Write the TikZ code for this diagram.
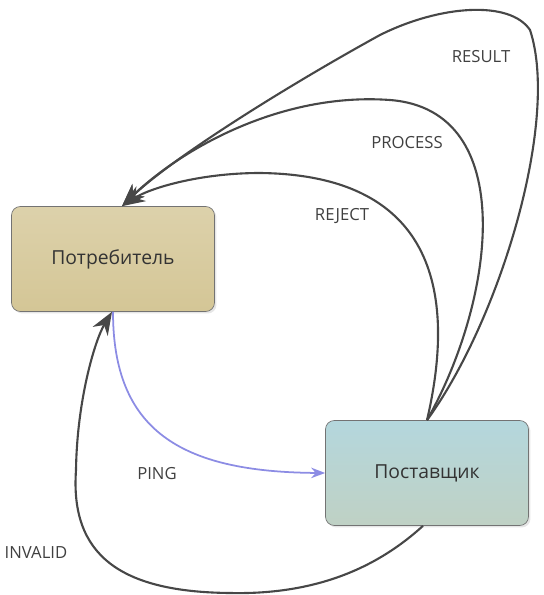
\documentclass[tikz,border=0pt]{standalone}
\usepackage{fontspec}
\setmainfont{Open Sans}
\usetikzlibrary{arrows.meta,shapes,positioning,shadows}
\definecolor{consfill}{RGB}{212,198,150}
\definecolor{provfill}{RGB}{180,215,221}
\definecolor{pingblue}{RGB}{140,140,228}

\begin{document}
\begin{tikzpicture}[x=0.02cm,y=-0.02cm]
\tikzset{state/.style ={draw=black!55, rounded corners=5pt, minimum width=4.06cm, minimum height=2.1cm,
    font=\fontsize{11}{13}\selectfont, text=black!80, drop shadow={opacity=0.2, shadow xshift=0.04cm, shadow yshift=-0.04cm}}}
\tikzset{msg/.style ={draw=black!72, line width=1.2pt, -{Stealth[length=13pt,width=10pt]}}}
\tikzset{lbl/.style ={font=\fontsize{9.5}{11}\selectfont, text=black!75}}
\useasboundingbox (0,0) rectangle (544,595);
    \node[state, top color=consfill!80!white, bottom color=consfill] (cons) at (113,259) {Потребитель};
    \node[state, shading angle=30, top color=provfill, bottom color=provfill!65!consfill] (prov) at (427,473) {Поставщик};
% replies from the supplier
    \draw[msg] (prov.north) .. controls (455,300) and (440,175) .. (260,173)
        .. controls (200,173) and (150,188) .. ([xshift=0.18cm]cons.north);
    \draw[msg] (prov.north) .. controls (495,300) and (520,110) .. (390,100)
        .. controls (280,92) and (180,150) .. ([xshift=0.18cm]cons.north);
    \draw[msg] (prov.north) .. controls (500,320) and (560,120) .. (530,30)
        .. controls (510,0) and (440,5) .. (380,35)
        .. controls (280,90) and (170,160) .. ([xshift=0.18cm]cons.north);
    \draw[msg] ([xshift=-0.08cm]prov.south) .. controls (380,565) and (320,595) .. (230,593)
        .. controls (120,592) and (70,555) .. (76,470)
        .. controls (77,400) and (95,340) .. ([xshift=-0.02cm]cons.south);
% request
    \draw[msg, draw=pingblue, line width=1pt, -{Stealth[length=8pt,width=6pt]}] (cons.south)
        .. controls (113,430) and (180,472) .. (prov.west);
    \node[lbl] (result) at (481,57) {RESULT};
    \node[lbl] (process) at (407,143) {PROCESS};
    \node[lbl] (reject) at (342,216) {REJECT};
    \node[lbl] (ping) at (157,474) {PING};
    \node[lbl] (invalid) at (36,553) {INVALID};
\end{tikzpicture}
\end{document}
